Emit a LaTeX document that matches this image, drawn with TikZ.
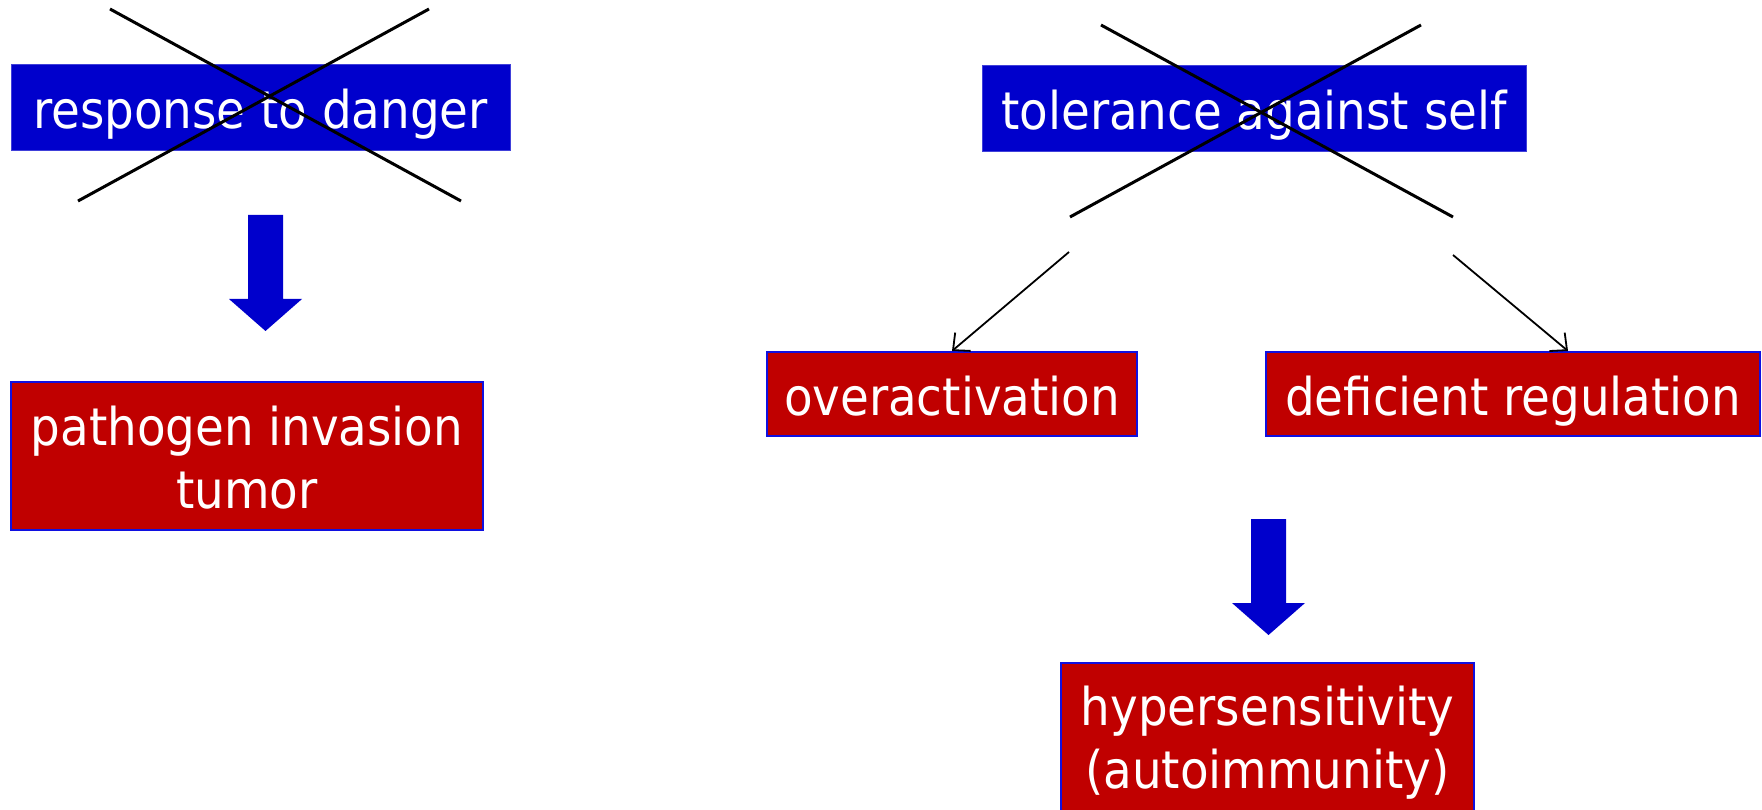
\documentclass[tikz,border=0pt]{standalone}
\usepackage{fontspec}
\setmainfont{DejaVu Sans Condensed}
\usetikzlibrary{arrows.meta}
\definecolor{boxblue}{HTML}{0000CC}
\definecolor{boxred}{HTML}{C00000}
\definecolor{edgeblue}{HTML}{1010E0}
\begin{document}
\begin{tikzpicture}[x=1pt,y=-1pt,
  every node/.style={font=\fontsize{52}{63}\selectfont, text=white, inner sep=0pt, align=center, text height=48pt, text depth=6pt},
  twoline/.style={text height=111pt},
  bluebox/.style={fill=boxblue, draw=boxblue!75!white, line width=1pt},
  redbox/.style={fill=boxred, draw=edgeblue, line width=2pt},
  crossline/.style={line width=3pt, black},
  thinarrow/.style={line width=1.8pt, black, -{Straight Barb[length=13pt,width=24pt,line width=1.8pt]}},
  bigarrow/.style={fill=boxblue, draw=none}]
\useasboundingbox (0,0) rectangle (1762,810);

% boxes
\node[bluebox, minimum width=499pt, minimum height=86pt] (danger) at (260.5,108) {response to danger};
\node[redbox, twoline, minimum width=472pt, minimum height=148pt] (pathogen) at (247,456) {pathogen invasion\\tumor};
\node[bluebox, minimum width=544pt, minimum height=86pt] (tolerance) at (1254,109) {tolerance against self};
\node[redbox, minimum width=370pt, minimum height=84pt] (overact) at (952,394) {overactivation};
\node[redbox, minimum width=494pt, minimum height=84pt] (deficient) at (1513,394) {deficient regulation};
\node[redbox, twoline, minimum width=413pt, minimum height=158pt, text depth=19pt] (hyper) at (1267.5,742) {hypersensitivity\\(autoimmunity)};

% crosses
\draw[crossline] (110,9) -- (461,201);
\draw[crossline] (429,9) -- (78,201);
\draw[crossline] (1101,25) -- (1453,217);
\draw[crossline] (1421,25) -- (1070,217);

% big arrows
\fill[bigarrow] (248,215) -- (283,215) -- (283,299) -- (302,299) -- (265.5,331) -- (229,299) -- (248,299) -- cycle;
\fill[bigarrow] (1251,519) -- (1286,519) -- (1286,603) -- (1305,603) -- (1268.5,635) -- (1232,603) -- (1251,603) -- cycle;

% thin arrows
\coordinate (s1) at (1069,252);
\coordinate (s2) at (1453,255);
\draw[thinarrow] (s1) -- (overact.north);
\draw[thinarrow] (s2) -- ([xshift=55pt]deficient.north);
\end{tikzpicture}
\end{document}
